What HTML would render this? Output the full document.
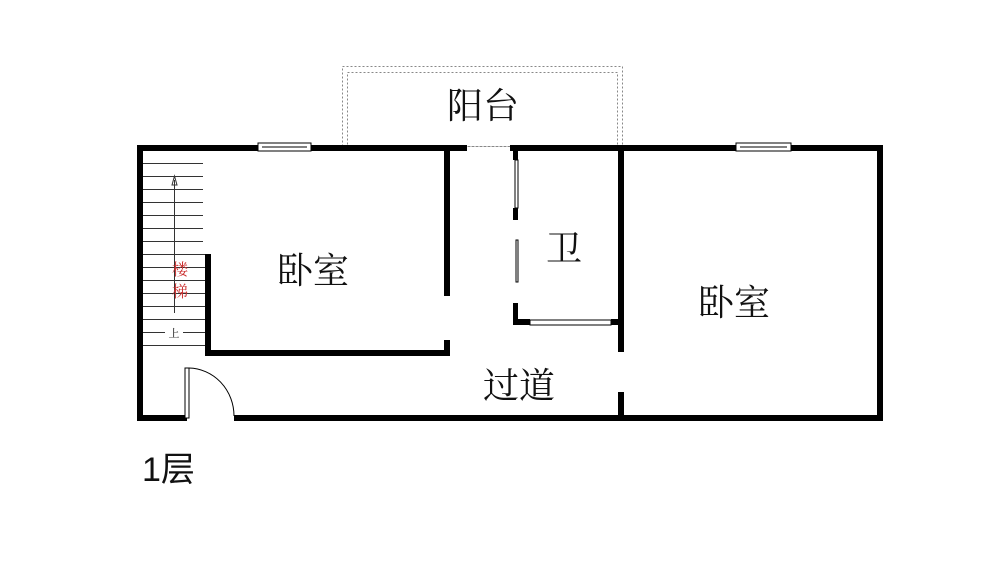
<!DOCTYPE html>
<html><head><meta charset="utf-8"><style>
html,body{margin:0;padding:0;background:#fff;width:1000px;height:578px;overflow:hidden}
text{font-family:"Liberation Serif","Noto Serif CJK SC",serif;fill:#111}
</style></head><body>
<svg width="1000" height="578" viewBox="0 0 1000 578" xmlns="http://www.w3.org/2000/svg">
<!-- balcony dotted -->
<rect x="342.5" y="66.5" width="280" height="80" fill="none" stroke="#888" stroke-dasharray="2,2"/>
<rect x="347.5" y="72.5" width="270" height="74" fill="none" stroke="#888" stroke-dasharray="2,2"/>
<g fill="#000">
<!-- outer walls -->
<rect x="137" y="145" width="330" height="6"/>
<rect x="510" y="145" width="373" height="6"/>
<rect x="137" y="145" width="6" height="276"/>
<rect x="877" y="145" width="6" height="276"/>
<rect x="137" y="415" width="50" height="6"/>
<rect x="234" y="415" width="649" height="6"/>
<!-- left bedroom -->
<rect x="444" y="150" width="6" height="146"/>
<rect x="444" y="340" width="6" height="16"/>
<rect x="205" y="350" width="245" height="6"/>
<rect x="205" y="254" width="6" height="102"/>
<!-- bath -->
<rect x="513" y="150" width="5" height="10"/>
<rect x="513" y="208" width="5" height="12"/>
<rect x="513" y="303" width="5" height="22"/>
<rect x="513" y="319" width="17" height="6"/>
<rect x="611" y="319" width="10" height="6"/>
<!-- middle wall -->
<rect x="618" y="150" width="6" height="202"/>
<rect x="618" y="392" width="6" height="25"/>
</g>
<!-- windows -->
<g fill="#fff" stroke="#000" stroke-width="1">
<rect x="258" y="143" width="53" height="8"/>
<rect x="736" y="143" width="55" height="8"/>
<rect x="515" y="160" width="3" height="48"/>
<rect x="516" y="240" width="2" height="42"/>
<rect x="530" y="320" width="81" height="5"/>
</g>
<line x1="262" y1="147" x2="307" y2="147" stroke="#000"/>
<line x1="740" y1="147" x2="787" y2="147" stroke="#000"/>
<!-- stairs -->
<g stroke="#333" stroke-width="1">
<line x1="143" y1="163.5" x2="203" y2="163.5"/><line x1="143" y1="176.5" x2="203" y2="176.5"/>
<line x1="143" y1="189.5" x2="203" y2="189.5"/><line x1="143" y1="202.5" x2="203" y2="202.5"/>
<line x1="143" y1="215.5" x2="203" y2="215.5"/><line x1="143" y1="228.5" x2="203" y2="228.5"/>
<line x1="143" y1="241.5" x2="203" y2="241.5"/><line x1="143" y1="254.5" x2="205" y2="254.5"/>
<line x1="143" y1="267.5" x2="205" y2="267.5"/><line x1="143" y1="280.5" x2="205" y2="280.5"/>
<line x1="143" y1="293.5" x2="205" y2="293.5"/><line x1="143" y1="306.5" x2="205" y2="306.5"/>
<line x1="143" y1="319.5" x2="205" y2="319.5"/><line x1="143" y1="332.5" x2="165" y2="332.5"/>
<line x1="183" y1="332.5" x2="205" y2="332.5"/><line x1="143" y1="345.5" x2="205" y2="345.5"/>
<line x1="174.5" y1="180" x2="174.5" y2="313"/>
</g>
<path d="M172,185 L174.5,176 L177,185 Z" fill="none" stroke="#333"/>
<text x="174" y="337" font-size="11" text-anchor="middle">上</text>
<text x="180" y="275" font-size="16" fill="#c33" style="fill:#c33" text-anchor="middle">楼</text>
<text x="180" y="297" font-size="16" style="fill:#c33" text-anchor="middle">梯</text>
<!-- door -->
<rect x="185" y="368" width="4" height="50" fill="#fff" stroke="#000"/>
<path d="M189,368 A46,48 0 0 1 234,416" fill="none" stroke="#000"/>
<!-- labels -->
<text x="483" y="118" font-size="36" text-anchor="middle">阳台</text>
<text x="313" y="283" font-size="36" text-anchor="middle">卧室</text>
<text x="564" y="261" font-size="36" text-anchor="middle">卫</text>
<text x="734" y="315" font-size="36" text-anchor="middle">卧室</text>
<text x="519" y="398" font-size="36" text-anchor="middle">过道</text>
<text x="142" y="481" font-size="34" style="font-family:'Liberation Sans','Noto Sans CJK SC',sans-serif">1层</text>
</svg>
</body></html>
